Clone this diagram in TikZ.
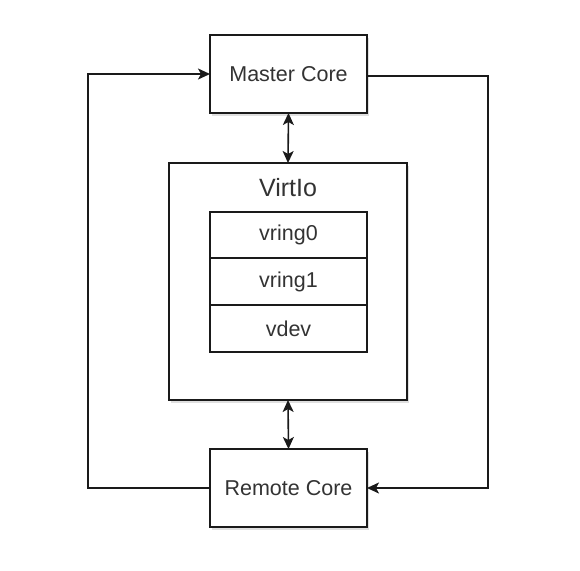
\documentclass[tikz,border=0pt]{standalone}
\usepackage{fontspec}
\setmainfont{Liberation Sans}
\usetikzlibrary{arrows.meta,shadows}
\definecolor{txt}{HTML}{333333}
\definecolor{ln}{HTML}{1A1A1A}
\tikzset{
  box/.style={draw=ln, line width=1.6pt, fill=white, minimum width=157pt, inner sep=0pt, outer sep=0pt,
    text=txt, font=\fontsize{21.5}{24}\selectfont,
    drop shadow={shadow xshift=2pt, shadow yshift=-3pt, opacity=0.25, fill=gray}},
  cell/.style={draw=ln, line width=1.3pt, fill=white, minimum width=157pt, inner sep=0pt, outer sep=0pt,
    text=txt, font=\fontsize{21.5}{24}\selectfont},
  tip/.style={Stealth[length=12pt,width=11pt,inset=3pt]},
  link/.style={draw=ln, line width=1.6pt, -{Stealth[length=12pt,width=11pt,inset=3pt]}},
  dlink/.style={draw=ln, line width=1.6pt, {Stealth[length=12pt,width=11pt,inset=3pt]}-{Stealth[length=12pt,width=11pt,inset=3pt]}}
}
\begin{document}
\begin{tikzpicture}[x=1pt,y=-1pt]
\useasboundingbox[fill=white] (0,0) rectangle (580,570);
\node[box, minimum height=78pt] (master) at (288.5,74) {Master Core};
\node[box, minimum height=78pt] (remote) at (288.5,488) {Remote Core};
\node[box, minimum width=238pt, minimum height=237pt] (virt) at (288,281.5) {};
\node[text=txt, font=\fontsize{25}{28}\selectfont] (vlabel) at (288,188) {VirtIo};
\node[cell, minimum height=46pt] (vr0) at (288.5,235) {vring0};
\node[cell, minimum height=47pt] (vr1) at (288.5,281.5) {vring1};
\node[cell, minimum height=47pt] (vdev) at (288.5,328.5) {vdev};
\coordinate (lc) at (88,488);
\coordinate (rc) at (488,76);
\draw[link] (remote.west) -- (lc) |- (master.west);
\draw[link] (master.east |- rc) -- (rc) |- (remote.east);
\draw[dlink] (master.south) -- (virt.north);
\draw[dlink] (virt.south) -- (remote.north);
\end{tikzpicture}
\end{document}
